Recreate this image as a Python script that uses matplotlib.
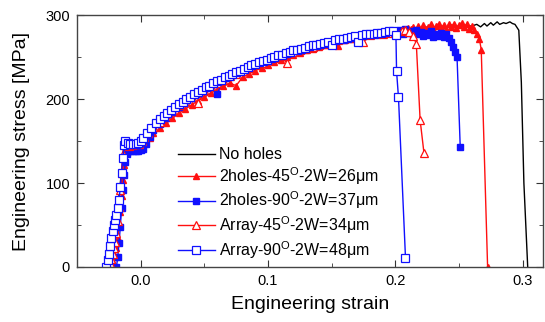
import matplotlib
matplotlib.use("Agg")
import matplotlib.pyplot as plt
from matplotlib.ticker import MultipleLocator, FormatStrFormatter

plt.rcParams['font.family'] = ['Liberation Sans', 'DejaVu Sans']
plt.rcParams['mathtext.fontset'] = 'custom'
plt.rcParams['mathtext.rm'] = 'Liberation Sans'

# No holes (line only)
nohole_strain = [-0.024, -0.020, -0.016, -0.013, -0.011, -0.008, -0.004, 0.000,
                 0.010, 0.020, 0.040, 0.060, 0.080, 0.100, 0.120, 0.140, 0.160, 0.180,
                 0.200, 0.220, 0.240, 0.260, 0.264, 0.267, 0.270, 0.272, 0.275, 0.277,
                 0.280, 0.282, 0.285, 0.287, 0.290, 0.292, 0.294, 0.297, 0.299, 0.301, 0.304]
nohole_stress = [0, 40, 100, 140, 146, 144, 145, 148,
                 168, 180, 202, 219, 234, 246, 256, 265, 272, 277,
                 281, 284, 286, 287, 289, 286, 290, 287, 291, 288,
                 292, 289, 291, 290, 292, 290, 289, 282, 220, 100, 0]

# 2holes-45 (filled triangles)
h45_strain = [-0.022, -0.021, -0.020, -0.019, -0.018, -0.017, -0.016, -0.015, -0.014, -0.013, -0.012,
              -0.010, -0.008, -0.006, -0.004, -0.002, 0.000, 0.002, 0.004, 0.007, 0.010,
              0.015, 0.020, 0.025, 0.030, 0.035, 0.040, 0.045, 0.050, 0.055, 0.060,
              0.065, 0.070, 0.075, 0.080, 0.085, 0.090, 0.095, 0.100, 0.105, 0.110,
              0.115, 0.120, 0.125, 0.130, 0.135, 0.140, 0.145, 0.150, 0.155, 0.160,
              0.165, 0.170, 0.175, 0.180, 0.185, 0.190, 0.195, 0.200,
              0.204, 0.206, 0.208, 0.210, 0.212, 0.214, 0.216, 0.218, 0.220, 0.222,
              0.224, 0.226, 0.228, 0.230, 0.232, 0.234, 0.236, 0.238, 0.240, 0.242,
              0.244, 0.246, 0.248, 0.250, 0.252, 0.254, 0.256, 0.258, 0.260,
              0.262, 0.264, 0.266, 0.2675, 0.2725]
h45_stress = [0, 4, 12, 22, 35, 50, 66, 84, 104, 122, 136,
              139, 140, 140, 140, 140, 141, 143, 148, 154, 159,
              165, 171, 177, 183, 188, 193, 198, 202, 207, 211,
              215, 219, 216, 226, 230, 234, 237, 240, 244, 247,
              250, 253, 255, 258, 260, 262, 264, 266, 263, 270,
              272, 273, 275, 276, 277, 278, 279, 280,
              282, 284, 281, 285, 283, 286, 282, 287, 284, 288,
              283, 286, 289, 284, 287, 290, 285, 288, 284, 289,
              286, 290, 285, 288, 291, 286, 289, 284, 287,
              282, 278, 272, 259, 0]

# 2holes-90 (filled squares)
h90_strain = [-0.019, -0.018, -0.017, -0.016, -0.015, -0.014, -0.013, -0.012, -0.011, -0.010,
              -0.008, -0.006, -0.004, -0.002, 0.000, 0.002, 0.004, 0.007, 0.010,
              0.015, 0.020, 0.025, 0.030, 0.035, 0.040, 0.045, 0.050, 0.055, 0.060,
              0.065, 0.070, 0.075, 0.080, 0.085, 0.090, 0.095, 0.100, 0.105, 0.110,
              0.115, 0.120, 0.125, 0.130, 0.135, 0.140, 0.145, 0.150, 0.155, 0.160,
              0.165, 0.170, 0.175, 0.180, 0.185, 0.190, 0.195, 0.200,
              0.202, 0.204, 0.206, 0.208, 0.210, 0.212, 0.214, 0.216, 0.218, 0.220,
              0.222, 0.224, 0.226, 0.228, 0.230, 0.232, 0.234, 0.236, 0.238, 0.240,
              0.242, 0.244, 0.2455, 0.247, 0.2485, 0.251]
h90_stress = [0, 12, 28, 48, 70, 92, 110, 125, 134, 138,
              138, 138, 138, 138, 139, 141, 147, 155, 163,
              170, 177, 184, 190, 196, 201, 206, 210, 215, 206,
              223, 227, 230, 234, 237, 241, 244, 247, 249, 252,
              254, 257, 259, 261, 263, 265, 267, 268, 270, 271,
              273, 274, 275, 276, 277, 278, 279, 280,
              280, 282, 278, 283, 279, 281, 276, 282, 277, 280,
              275, 279, 276, 281, 274, 278, 275, 279, 274, 277,
              273, 268, 262, 256, 250, 143]

# Array-45 (open triangles)
a45_strain = [-0.026, -0.025, -0.024, -0.023, -0.022, -0.021, -0.020, -0.019, -0.018, -0.017,
              -0.016, -0.015, -0.014, -0.013,
              -0.011, -0.009, -0.007, -0.005, -0.003, -0.001, 0.001, 0.003, 0.006, 0.010,
              0.015, 0.020, 0.025, 0.030, 0.035, 0.040, 0.045, 0.050, 0.055, 0.060,
              0.065, 0.070, 0.075, 0.080, 0.085, 0.090, 0.095, 0.100, 0.105, 0.110,
              0.115, 0.120, 0.125, 0.130, 0.135, 0.140, 0.145, 0.150, 0.155, 0.160,
              0.165, 0.170, 0.175, 0.180, 0.185, 0.190, 0.195, 0.200,
              0.205, 0.208, 0.211, 0.214, 0.2165, 0.2195, 0.2225]
a45_stress = [0, 2, 5, 10, 16, 22, 30, 40, 55, 72,
              92, 112, 135, 150,
              146, 144, 145, 146, 146, 147, 150, 155, 160, 167,
              173, 180, 187, 193, 198, 203, 195, 211, 215, 219,
              223, 227, 230, 234, 237, 240, 243, 246, 249, 251,
              243, 256, 258, 260, 262, 264, 266, 268, 270, 271,
              273, 274, 268, 276, 277, 278, 279, 280,
              281, 282, 280, 275, 266, 175, 136]

# Array-90 (open squares)
a90_strain = [-0.027, -0.026, -0.025, -0.024, -0.023, -0.022, -0.021, -0.020, -0.019, -0.018,
              -0.017, -0.016, -0.015, -0.014, -0.013, -0.012,
              -0.010, -0.008, -0.006, -0.004, -0.002, 0.000, 0.002, 0.005, 0.008,
              0.012, 0.015, 0.018, 0.021, 0.024, 0.027, 0.030, 0.033, 0.036, 0.039,
              0.042, 0.045, 0.048, 0.051, 0.054, 0.057, 0.060, 0.063, 0.066, 0.069,
              0.072, 0.075, 0.078, 0.081, 0.084, 0.087, 0.090, 0.093, 0.096, 0.099,
              0.102, 0.105, 0.108, 0.111, 0.114, 0.117, 0.120, 0.123, 0.126, 0.129,
              0.132, 0.135, 0.138, 0.141, 0.144, 0.147, 0.150, 0.153, 0.156, 0.159,
              0.162, 0.165, 0.168, 0.171, 0.174, 0.177, 0.180, 0.183, 0.186, 0.189,
              0.192, 0.195, 0.198,
              0.2005, 0.201, 0.2025, 0.208]
a90_stress = [0, 8, 16, 25, 35, 43, 50, 56, 62, 70,
              80, 95, 112, 130, 145, 150,
              148, 147, 146, 147, 148, 150, 154, 160, 165,
              172, 176, 180, 183, 187, 191, 194, 197, 200, 203,
              206, 209, 211, 214, 216, 219, 221, 223, 226, 228,
              230, 232, 234, 236, 238, 240, 242, 244, 245, 247,
              249, 250, 252, 253, 255, 256, 258, 259, 260, 261,
              263, 264, 265, 266, 267, 268, 264, 270, 271, 272,
              273, 274, 275, 268, 276, 277, 278, 278, 279, 279,
              280, 281, 281,
              276, 233, 202, 11]

fig = plt.figure(figsize=(5.45, 3.22), dpi=100)
ax = fig.add_axes([0.1413, 0.171, 0.855, 0.782])

red = '#ff1010'
blue = '#1010ff'
ax.plot(nohole_strain, nohole_stress, color='black', lw=1.0, label='No holes')
ax.plot(h45_strain, h45_stress, color=red, lw=1.0, marker='^', ms=5,
        mfc=red, mec=red, label='2holes-45$^{\\mathrm{O}}$-2W=26\u03bcm')
ax.plot(h90_strain, h90_stress, color=blue, lw=1.0, marker='s', ms=4.5,
        mfc=blue, mec=blue, label='2holes-90$^{\\mathrm{O}}$-2W=37\u03bcm')
ax.plot(a45_strain, a45_stress, color=red, lw=1.0, marker='^', ms=6,
        mfc='white', mec=red, mew=0.9, label='Array-45$^{\\mathrm{O}}$-2W=34\u03bcm')
ax.plot(a90_strain, a90_stress, color=blue, lw=1.0, marker='s', ms=5.5,
        mfc='white', mec=blue, mew=0.9, label='Array-90$^{\\mathrm{O}}$-2W=48\u03bcm')

ax.set_xlim(-0.05, 0.316)
ax.set_ylim(0, 300)
ax.xaxis.set_major_locator(MultipleLocator(0.1))
ax.xaxis.set_minor_locator(MultipleLocator(0.05))
ax.xaxis.set_major_formatter(FormatStrFormatter('%.1f'))
ax.yaxis.set_major_locator(MultipleLocator(100))
ax.yaxis.set_minor_locator(MultipleLocator(50))
ax.tick_params(which='both', direction='in', top=True, right=True, labelsize=10.5,
               colors='#333333', labelcolor='black')
ax.tick_params(which='major', length=5, pad=5)
ax.tick_params(which='minor', length=3)
for s in ax.spines.values():
    s.set_color('#444444')
    s.set_linewidth(1.0)

ax.set_xlabel('Engineering strain', fontsize=14, labelpad=6)
ax.set_ylabel('Engineering stress [MPa]', fontsize=14, labelpad=11)

ax.legend(loc='upper left', bbox_to_anchor=(0.217, 0.475), frameon=False,
          fontsize=11.5, handlelength=2.3, handletextpad=0.25, labelspacing=0.18,
          borderpad=0, borderaxespad=0, numpoints=1)

fig.savefig('out.png', dpi=100)
